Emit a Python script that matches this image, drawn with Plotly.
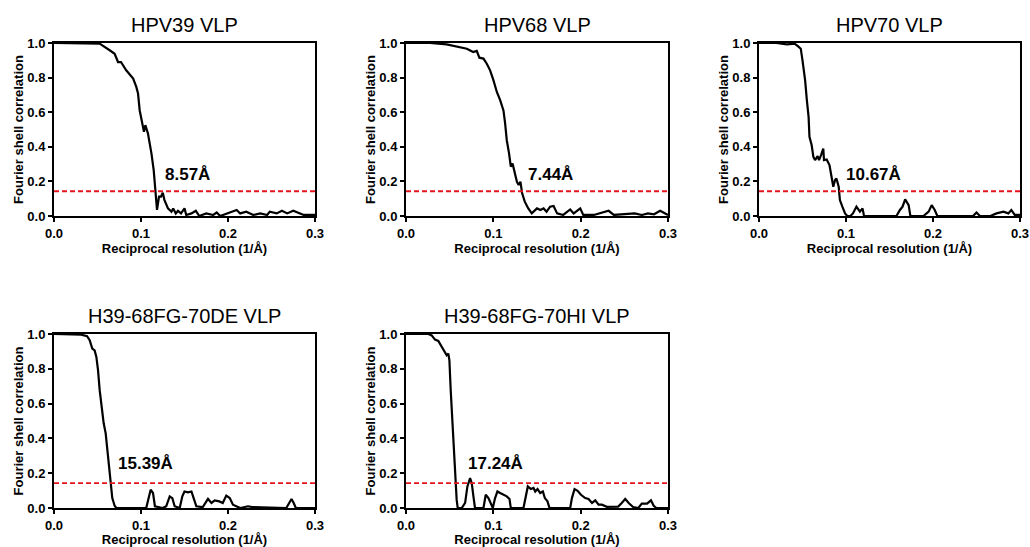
import plotly.graph_objects as go

titles = ["HPV39 VLP", "HPV68 VLP", "HPV70 VLP", "H39-68FG-70DE VLP", "H39-68FG-70HI VLP"]
res_labels = ["8.57Å", "7.44Å", "10.67Å", "15.39Å", "17.24Å"]
label_x = [0.153, 0.166, 0.132, 0.105, 0.102]
label_y = [0.242, 0.242, 0.242, 0.254, 0.258]
threshold = 0.143

x39 = [0.0, 0.025, 0.0525, 0.064, 0.0697, 0.0736, 0.077, 0.083, 0.089, 0.091, 0.0946, 0.0966, 0.0985, 0.102,
       0.1034, 0.105, 0.108, 0.112, 0.1146, 0.1165, 0.1184, 0.1207, 0.123, 0.125, 0.127, 0.131, 0.135, 0.137,
       0.14, 0.1425, 0.146, 0.150, 0.152, 0.158, 0.163, 0.167, 0.175, 0.183, 0.187, 0.191, 0.204, 0.21, 0.214,
       0.221, 0.229, 0.237, 0.245, 0.248, 0.256, 0.262, 0.268, 0.275, 0.287, 0.3]
y39 = [1.0, 1.0, 0.996, 0.958, 0.938, 0.89, 0.89, 0.842, 0.804, 0.794, 0.746, 0.708, 0.61, 0.515,
       0.487, 0.525, 0.477, 0.362, 0.265, 0.15, 0.035, 0.112, 0.112, 0.135, 0.092, 0.044, 0.025, 0.044,
       0.015, 0.03, 0.015, 0.044, 0.006, 0.015, 0.03, 0.0, 0.015, 0.006, 0.02, 0.0, 0.025, 0.035, 0.015,
       0.025, 0.006, 0.015, 0.006, 0.025, 0.015, 0.03, 0.015, 0.03, 0.006, 0.006]

x68 = [0.0, 0.0275, 0.0466, 0.058, 0.0696, 0.077, 0.081, 0.084, 0.0887, 0.0925, 0.0963, 0.1001, 0.104,
       0.1078, 0.1116, 0.1135, 0.1154, 0.118, 0.12, 0.122, 0.124, 0.127, 0.129, 0.131, 0.133, 0.136, 0.140,
       0.144, 0.15, 0.154, 0.1575, 0.161, 0.165, 0.169, 0.173, 0.180, 0.188, 0.192, 0.1995, 0.203, 0.215,
       0.232, 0.238, 0.262, 0.27, 0.277, 0.284, 0.291, 0.3]
y68 = [1.0, 1.0, 0.992, 0.98, 0.967, 0.948, 0.954, 0.915, 0.91, 0.88, 0.842, 0.785, 0.717,
       0.67, 0.61, 0.535, 0.438, 0.362, 0.285, 0.304, 0.256, 0.198, 0.179, 0.198, 0.131, 0.083, 0.044,
       0.015, 0.044, 0.035, 0.044, 0.025, 0.054, 0.058, 0.015, 0.006, 0.038, 0.015, 0.044, 0.006, 0.006,
       0.03, 0.006, 0.015, 0.006, 0.015, 0.01, 0.03, 0.006]

x70 = [0.0, 0.02, 0.032, 0.041, 0.045, 0.048, 0.050, 0.053, 0.055, 0.057, 0.058, 0.0605, 0.0625, 0.0644,
       0.0674, 0.069, 0.0713, 0.0739, 0.0747, 0.0778, 0.081, 0.0835, 0.0854, 0.0874, 0.089, 0.0916, 0.093,
       0.0958, 0.0989, 0.1015, 0.105, 0.108, 0.112, 0.116, 0.119, 0.1207, 0.158, 0.162, 0.165, 0.168, 0.172,
       0.174, 0.189, 0.195, 0.1985, 0.202, 0.205, 0.246, 0.250, 0.254, 0.266, 0.273, 0.281, 0.2866, 0.29,
       0.294, 0.3]
y70 = [1.0, 1.0, 0.992, 0.996, 0.98, 0.967, 0.9, 0.785, 0.67, 0.573, 0.458, 0.41, 0.342, 0.323,
       0.346, 0.323, 0.352, 0.39, 0.323, 0.327, 0.294, 0.208, 0.169, 0.208, 0.217, 0.169, 0.092,
       0.054, 0.015, 0.0, 0.0, 0.015, 0.054, 0.025, 0.044, 0.0, 0.0, 0.035, 0.054, 0.096, 0.063,
       0.0, 0.0, 0.025, 0.063, 0.035, 0.0, 0.0, 0.02, 0.0, 0.0, 0.015, 0.025, 0.015, 0.035,
       0.006, 0.006]

xde = [0.0, 0.0218, 0.0314, 0.038, 0.041, 0.044, 0.0467, 0.0487, 0.0506, 0.0525, 0.0544, 0.0571, 0.0594,
       0.0613, 0.0628, 0.0648, 0.067, 0.0697, 0.0716, 0.106, 0.108, 0.1111, 0.1138, 0.116, 0.125, 0.129,
       0.133, 0.136, 0.1387, 0.1445, 0.1475, 0.150, 0.154, 0.158, 0.1605, 0.1636, 0.171, 0.177, 0.181,
       0.1847, 0.190, 0.194, 0.198, 0.202, 0.2057, 0.2096, 0.214, 0.223, 0.228, 0.267, 0.27, 0.273, 0.2755,
       0.278, 0.3]
yde = [1.0, 1.0, 0.996, 0.987, 0.964, 0.916, 0.906, 0.868, 0.792, 0.677, 0.582, 0.487, 0.429,
       0.334, 0.239, 0.124, 0.057, 0.013, 0.0, 0.0, 0.048, 0.105, 0.086, 0.01, 0.0, 0.01,
       0.067, 0.057, 0.01, 0.0, 0.067, 0.095, 0.09, 0.095, 0.057, 0.01, 0.005, 0.052, 0.029,
       0.044, 0.038, 0.029, 0.071, 0.057, 0.019, 0.01, 0.0, 0.01, 0.005, 0.0, 0.029, 0.052, 0.029,
       0.0, 0.0]

xhi = [0.0, 0.0256, 0.0294, 0.0332, 0.037, 0.041, 0.0447, 0.0466, 0.0485, 0.0497, 0.0512, 0.0531, 0.055,
       0.0566, 0.058, 0.0592, 0.0638, 0.0677, 0.0703, 0.0734, 0.0753, 0.0772, 0.079, 0.0887, 0.0913, 0.0944,
       0.097, 0.0994, 0.102, 0.1047, 0.1078, 0.1116, 0.1154, 0.1185, 0.12, 0.1345, 0.1376, 0.1395, 0.143,
       0.146, 0.148, 0.1506, 0.1537, 0.1567, 0.159, 0.162, 0.1643, 0.188, 0.19, 0.193, 0.1965, 0.2003,
       0.2052, 0.209, 0.213, 0.2167, 0.2205, 0.2243, 0.230, 0.2377, 0.243, 0.247, 0.251, 0.255, 0.26, 0.266,
       0.27, 0.276, 0.2805, 0.2836, 0.2867, 0.3]
yhi = [1.0, 1.0, 0.992, 0.968, 0.96, 0.926, 0.897, 0.878, 0.887, 0.849, 0.677, 0.487, 0.334,
       0.181, 0.048, 0.0, 0.0, 0.029, 0.124, 0.172, 0.143, 0.067, 0.0, 0.0, 0.076, 0.057,
       0.029, 0.0, 0.057, 0.095, 0.086, 0.076, 0.067, 0.052, 0.0, 0.0, 0.086, 0.124, 0.109,
       0.115, 0.095, 0.109, 0.086, 0.095, 0.057, 0.038, 0.0, 0.0, 0.057, 0.109, 0.099, 0.076,
       0.057, 0.052, 0.029, 0.044, 0.019, 0.019, 0.007, 0.01, 0.008, 0.029, 0.052, 0.029, 0.006, 0.0,
       0.025, 0.025, 0.044, 0.013, 0.0, 0.0]

xs = [x39, x68, x70, xde, xhi]
ys = [y39, y68, y70, yde, yhi]

W, H = 1030, 547
# pixel boxes: (left, right, top, bottom)
boxes = [(54, 315, 43, 216), (406, 668, 43, 216), (759, 1020, 43, 216),
         (54, 315, 334, 508), (406, 668, 334, 508)]

FONT = "Liberation Sans, Arial, sans-serif"
fig = go.Figure()
for i in range(5):
    ax = "" if i == 0 else str(i + 1)
    l, r, t, b = boxes[i]
    fig.add_trace(go.Scatter(x=xs[i], y=ys[i], mode="lines",
                             line=dict(color="black", width=2.2),
                             xaxis="x" + ax, yaxis="y" + ax, showlegend=False))
    fig.add_trace(go.Scatter(x=[0, 0.3], y=[threshold, threshold], mode="lines",
                             line=dict(color="#e8141c", width=1.8, dash="5px,3px"),
                             xaxis="x" + ax, yaxis="y" + ax, showlegend=False))
    axis_common = dict(showline=True, linecolor="black", linewidth=2, mirror=True,
                       ticks="outside", ticklen=4, tickwidth=2, tickcolor="black",
                       showgrid=False, zeroline=False, automargin=False,
                       tickfont=dict(family=FONT, size=13, color="black", weight="bold"))
    fig.update_layout(**{
        "xaxis" + ax: dict(domain=[l / W, r / W], range=[0, 0.3], anchor="y" + ax,
                           tickvals=[0, 0.1, 0.2, 0.3], tickformat=".1f",
                           title=dict(text="Reciprocal resolution (1/Å)", standoff=4,
                                      font=dict(family=FONT, size=13, color="black", weight="bold")),
                           **axis_common),
        "yaxis" + ax: dict(domain=[1 - b / H, 1 - t / H], range=[0, 1], anchor="x" + ax,
                           tickvals=[0, 0.2, 0.4, 0.6, 0.8, 1.0], tickformat=".1f",
                           title=dict(text="Fourier shell correlation", standoff=1,
                                      font=dict(family=FONT, size=13, color="black", weight="bold")),
                           **axis_common),
    })
    fig.add_annotation(x=(l + r) / 2 / W, y=1 - (t - 18) / H, xref="paper", yref="paper",
                       xanchor="center", yanchor="middle",
                       text=titles[i], showarrow=False,
                       font=dict(family=FONT, size=20, color="black"))
    fig.add_annotation(x=label_x[i], y=label_y[i], xref="x" + ax, yref="y" + ax,
                       xanchor="center", yanchor="middle",
                       text=res_labels[i], showarrow=False,
                       font=dict(family=FONT, size=17, color="black", weight="bold"))

fig.update_layout(width=W, height=H, margin=dict(l=0, r=0, t=0, b=0),
                  paper_bgcolor="white", plot_bgcolor="white")
fig.write_html("out.html", config={"displayModeBar": False},
               post_script="document.body.style.margin='0px';document.body.style.overflow='hidden';")
